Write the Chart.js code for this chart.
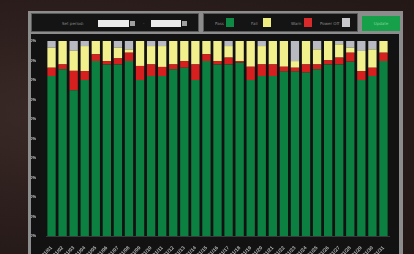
<!DOCTYPE html>
<html><head><meta charset="utf-8">
<script src="https://cdn.jsdelivr.net/npm/chart.js@4/dist/chart.umd.min.js"></script>
<style>
html,body{margin:0;padding:0;width:414px;height:254px;overflow:hidden;
 background:radial-gradient(ellipse at 15% 45%,#3b2a27 0%,#2a1d1b 55%,#211715 100%);font-family:"DejaVu Sans",sans-serif;}
#panel{position:absolute;left:28px;top:11px;width:375px;height:250px;background:#8c8c8c;}
.box{position:absolute;top:2px;height:19px;background:#141414;border:1px solid #5a5a5a;box-sizing:border-box;}
#b1{left:3px;width:168px;}
#b2{left:175px;width:155px;}
#btn{position:absolute;left:334px;top:5px;width:38px;height:15px;background:#17a04a;color:#7fd69a;font-size:4px;line-height:15px;text-align:center;}
.t{position:absolute;color:#8a8a8a;font-size:4px;line-height:5px;}
.sel{position:absolute;top:6px;height:7px;background:#ececec;}
.arr{position:absolute;top:7px;width:5px;height:5px;background:#a0a0a0;}
.sw{position:absolute;top:4px;width:8px;height:9px;}
#cv{position:absolute;left:3px;top:23px;}
</style></head><body>
<div id="panel">
 <div class="box" id="b1">
  <span class="t" style="left:30px;top:7px;">Set period:</span>
  <div class="sel" style="left:66px;width:31px;"></div><div class="arr" style="left:98px;"></div>
  <span class="t" style="left:111px;top:7px;">-</span>
  <div class="sel" style="left:119px;width:30px;"></div><div class="arr" style="left:150px;"></div>
 </div>
 <div class="box" id="b2">
  <span class="t" style="left:11px;top:7px;">Pass</span><div class="sw" style="left:22px;background:#0e8a45;"></div>
  <span class="t" style="left:47px;top:7px;">Fail</span><div class="sw" style="left:59px;background:#eeee80;"></div>
  <span class="t" style="left:87px;top:7px;">Warn</span><div class="sw" style="left:100px;background:#d82a2a;"></div>
  <span class="t" style="left:116px;top:7px;">Power Off</span><div class="sw" style="left:138px;background:#c8c8cc;"></div>
 </div>
 <div id="btn">Update</div>
 <canvas id="cv" width="368" height="221"></canvas>
</div>
<script>
const categories = ["2014/01/01","2014/01/02","2014/01/03","2014/01/04","2014/01/05","2014/01/06","2014/01/07","2014/01/08","2014/01/09","2014/01/10","2014/01/11","2014/01/12","2014/01/13","2014/01/14","2014/01/15","2014/01/16","2014/01/17","2014/01/18","2014/01/19","2014/01/20","2014/01/21","2014/01/22","2014/01/23","2014/01/24","2014/01/25","2014/01/26","2014/01/27","2014/01/28","2014/01/29","2014/01/30","2014/01/31"];
const passVals = [82,85.5,74.7,80,89.7,88,88,89.7,80,82,82,85.5,86.3,80,89.7,88,88,88.9,80,82,82,84.3,84.3,83.8,85.5,88,88,89.4,80,82,89.7];
const warnVals = [4.3,2.5,10,4.6,3.5,1.7,3.1,4.3,7.2,6,4.7,2.5,3.4,8,3.5,1.7,3.5,0.8,6.8,6,6,2.5,2,4.2,2.5,2.1,3.5,4.6,4.6,4.3,4.3];
const failVals = [10.3,12,10.3,12.8,6.8,10.3,5.5,1.7,12.8,9.4,10.7,12,10.3,12,6.8,10.3,5.9,10.3,13.2,9.4,12,13.2,3.4,12,7.7,9.9,6.8,2.6,10.3,9.4,6];
const offVals = [3.4,0,5,2.6,0,0,3.4,4.3,0,2.6,2.6,0,0,0,0,0,2.6,0,0,2.6,0,0,10.3,0,4.3,0,1.7,3.4,5.1,4.3,0];
const yTicks = ["0%","10%","20%","30%","40%","50%","60%","70%","80%","90%","100%"];

const ds = (label, data, color) => ({label, data, backgroundColor: color, borderWidth: 0, barPercentage: 0.75, categoryPercentage: 1});
new Chart(document.getElementById('cv'), {
  type: 'bar',
  data: { labels: categories, datasets: [
    ds('Pass', passVals, '#0c8040'),
    ds('Warn', warnVals, '#d62020'),
    ds('Fail', failVals, '#f2f08c'),
    ds('Power Off', offVals, '#b9b9c2')
  ]},
  options: {
    responsive: false, animation: false, devicePixelRatio: 1,
    layout: { padding: { top: 7, right: 10, left: 0, bottom: 0 } },
    plugins: { legend: { display: false }, tooltip: { enabled: false } },
    scales: {
      x: { stacked: true, grid: { display: false }, border: { color: '#3a3a3a' },
        ticks: { color: '#b4b4b4', font: { size: 5, weight: 'bold' }, minRotation: 45, maxRotation: 45, autoSkip: false, padding: 1 },
        afterFit: s => { s.height = 19; } },
      y: { stacked: true, min: 0, max: 100, grid: { display: false }, border: { display: false },
        ticks: { stepSize: 10, color: '#d0d0d0', font: { size: 4, weight: 'bold' }, padding: 2,
          callback: (v) => yTicks[Math.round(v / 10)] },
        afterFit: s => { s.width = 15; } }
    }
  },
  plugins: [{ id: 'bg', beforeDraw: c => { const g = c.ctx; g.save(); g.fillStyle = '#121212'; g.fillRect(0, 0, c.width, c.height); g.restore(); } }]
});
</script>
</body></html>
